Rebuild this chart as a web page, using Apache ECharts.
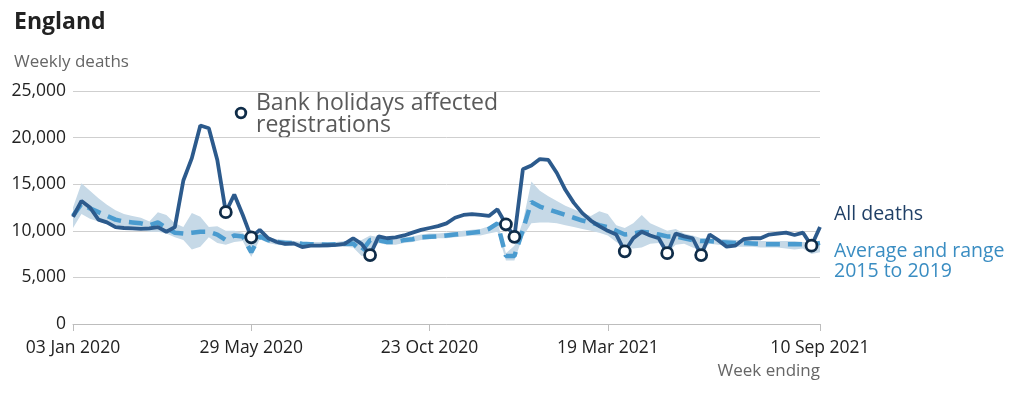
<!DOCTYPE html>
<html>
<head>
<meta charset="utf-8">
<script src="https://cdn.jsdelivr.net/npm/echarts@6/dist/echarts.min.js"></script>
<style>
  html, body { margin: 0; padding: 0; background: #fff; }
  #chart { width: 1024px; height: 397px; }
</style>
</head>
<body>
<div id="chart"></div>
<script>
// weekly deaths, England, week ending 03 Jan 2020 .. 10 Sep 2021
const allDeaths = [
  11500, 13200, 12500, 11200, 10900, 10400, 10300, 10250, 10200, 10250,
  10400, 9900, 10400, 15400, 17800, 21300, 21000, 17600, 12000, 13900,
  11700, 9300, 10100, 9200, 8800, 8600, 8650, 8250, 8400, 8400,
  8450, 8500, 8600, 9200, 8600, 7400, 9400, 9200, 9300, 9500,
  9800, 10100, 10300, 10500, 10800, 11400, 11700, 11800, 11700, 11600,
  12300, 10700, 9350, 16600, 17000, 17700, 17600, 16200, 14400, 13000,
  11900, 11100, 10500, 10000, 9600, 7800, 9200, 9900, 9500, 9200,
  7600, 9700, 9400, 9200, 7400, 9600, 9000, 8300, 8400, 9100,
  9200, 9200, 9600, 9700, 9800, 9550, 9800, 8400, 10400
];
const average = [
  11600, 12900, 12400, 12000, 11600, 11200, 11000, 10900, 10800, 10600,
  10900, 10300, 9800, 9700, 9800, 9900, 9900, 9600, 9000, 9500,
  9400, 7700, 9400, 9000, 8800, 8700, 8700, 8600, 8550, 8550,
  8500, 8550, 8600, 8650, 7800, 9000, 9000, 8800, 8800, 9000,
  9100, 9300, 9350, 9400, 9500, 9600, 9700, 9800, 9900, 10200,
  10800, 7300, 7300, 10100, 13100, 12600, 12300, 12000, 11700, 11400,
  11100, 10900, 10600, 10400, 10000, 9600, 9700, 9900, 9800, 9600,
  9400, 9400, 9200, 9000, 8900, 8900, 8800, 8750, 8700, 8700,
  8650, 8600, 8550, 8550, 8550, 8550, 8550, 8500, 8700
];
const rangeMin = [
  10300, 11800, 11300, 11000, 10700, 10500, 10300, 10200, 10100, 9900,
  9900, 9700, 9300, 9000, 8000, 8300, 9300, 8700, 8500, 8800,
  8900, 7200, 9100, 8700, 8500, 8400, 8400, 8300, 8300, 8300,
  8200, 8300, 8300, 8200, 7300, 7500, 8700, 8500, 8500, 8700,
  8800, 9000, 9100, 9200, 9200, 9300, 9400, 9500, 9500, 9700,
  9900, 6800, 6800, 9400, 10800, 10900, 10900, 10800, 10600, 10400,
  10200, 10000, 9800, 9500, 8800, 8200, 8100, 8200, 8600, 8700,
  7600, 8500, 8600, 8200, 7900, 8600, 8500, 8400, 8300, 8300,
  8300, 8200, 8200, 8200, 8100, 8000, 8100, 7500, 7700
];
const rangeMax = [
  12500, 15100, 14300, 13500, 12800, 12200, 11800, 11600, 11400, 11000,
  12000, 11700, 10800, 10400, 11900, 11500, 10400, 10500, 10000, 10000,
  9800, 8900, 9700, 9300, 9100, 9000, 8900, 8800, 8800, 8800,
  8800, 8800, 8900, 9000, 9000, 9500, 9300, 9100, 9100, 9300,
  9400, 9600, 9700, 9700, 9800, 9900, 10000, 10100, 10200, 10500,
  11000, 7600, 8400, 11000, 15300, 14300, 13700, 13200, 12700, 12300,
  11900, 11600, 12100, 11800, 10600, 10300, 10800, 11700, 10800, 10400,
  10000, 10200, 9700, 9500, 9200, 9200, 9100, 9100, 9000, 9000,
  8900, 8900, 8900, 8900, 8900, 8900, 8800, 8800, 8900
];
// weeks where bank holidays affected registrations
const bankHolidayWeeks = [18, 21, 35, 51, 52, 65, 70, 74, 87];
const tickWeeks = [0, 21, 42, 63, 88];
const tickLabels = ['03 Jan 2020', '29 May 2020', '23 Oct 2020', '19 Mar 2021', '10 Sep 2021'];

const weeks = allDeaths.map((_, i) => i);

const chart = echarts.init(document.getElementById('chart'));
const font = '"Open Sans", "Noto Sans", sans-serif';

const option = {
  animation: false,
  textStyle: { fontFamily: font },
  grid: { left: 73, right: 204, top: 91, bottom: 73 },
  xAxis: {
    type: 'category',
    data: weeks,
    boundaryGap: false,
    axisLine: { lineStyle: { color: '#bdbdbd', width: 1 } },
    axisTick: {
      interval: (i) => tickWeeks.includes(i),
      length: 7,
      lineStyle: { color: '#bdbdbd' }
    },
    axisLabel: {
      interval: (i) => tickWeeks.includes(i),
      formatter: (v) => tickLabels[tickWeeks.indexOf(Number(v))] || '',
      color: '#222',
      fontSize: 17.5,
      margin: 15,
      fontFamily: font
    },
    splitLine: { show: false }
  },
  yAxis: {
    type: 'value',
    min: 0,
    max: 25000,
    interval: 5000,
    axisLine: { show: false },
    axisTick: { show: false },
    axisLabel: {
      formatter: (v) => v.toLocaleString('en-GB'),
      color: '#222',
      fontSize: 17.5,
      margin: 7,
      fontFamily: font
    },
    splitLine: { lineStyle: { color: '#cfcfcf', width: 1 } }
  },
  series: [
    {
      name: 'rangeBase',
      type: 'line',
      data: rangeMin,
      stack: 'range',
      symbol: 'none',
      lineStyle: { opacity: 0 },
      silent: true
    },
    {
      name: 'range',
      type: 'line',
      data: rangeMax.map((v, i) => v - rangeMin[i]),
      stack: 'range',
      symbol: 'none',
      lineStyle: { opacity: 0 },
      areaStyle: { color: '#c6d9e7', opacity: 1 },
      silent: true
    },
    {
      name: 'Average',
      type: 'line',
      data: average,
      symbol: 'none',
      lineStyle: { color: '#4a9bcf', width: 4.5, type: [14, 8] }
    },
    {
      name: 'All deaths',
      type: 'line',
      data: allDeaths,
      symbol: 'none',
      lineStyle: { color: '#2c5a8c', width: 3.8 }
    },
    {
      name: 'Bank holidays',
      type: 'scatter',
      data: bankHolidayWeeks.map((w) => [w, allDeaths[w]]),
      symbol: 'circle',
      symbolSize: 11,
      itemStyle: { color: '#fff', borderColor: '#0f2c48', borderWidth: 2.8, opacity: 1 },
      z: 5
    }
  ],
  graphic: [
    { type: 'text', left: 14, top: 11, style: { text: 'England', fontSize: 23, fontWeight: 'bold', fill: '#222', fontFamily: font } },
    { type: 'text', left: 14, top: 54, style: { text: 'Weekly deaths', fontSize: 17, fill: '#666', fontFamily: font } },
    { type: 'text', right: 204, top: 363, style: { text: 'Week ending', fontSize: 17, fill: '#666', fontFamily: font } },
    { type: 'circle', shape: { cx: 241, cy: 113, r: 4.8 }, style: { fill: '#fff', stroke: '#0f2c48', lineWidth: 2.8 } },
    { type: 'text', left: 256, top: 92, style: { text: 'Bank holidays affected\nregistrations', fontSize: 23, lineHeight: 22, fill: '#5a5a5a', fontFamily: font } },
    { type: 'text', left: 834, top: 204, style: { text: 'All deaths', fontSize: 19.5, fill: '#1f3f66', fontFamily: font } },
    { type: 'text', left: 834, top: 241, style: { text: 'Average and range\n2015 to 2019', fontSize: 19.5, lineHeight: 20, fill: '#3a8dc2', fontFamily: font } }
  ]
};

chart.setOption(option);
</script>
</body>
</html>
